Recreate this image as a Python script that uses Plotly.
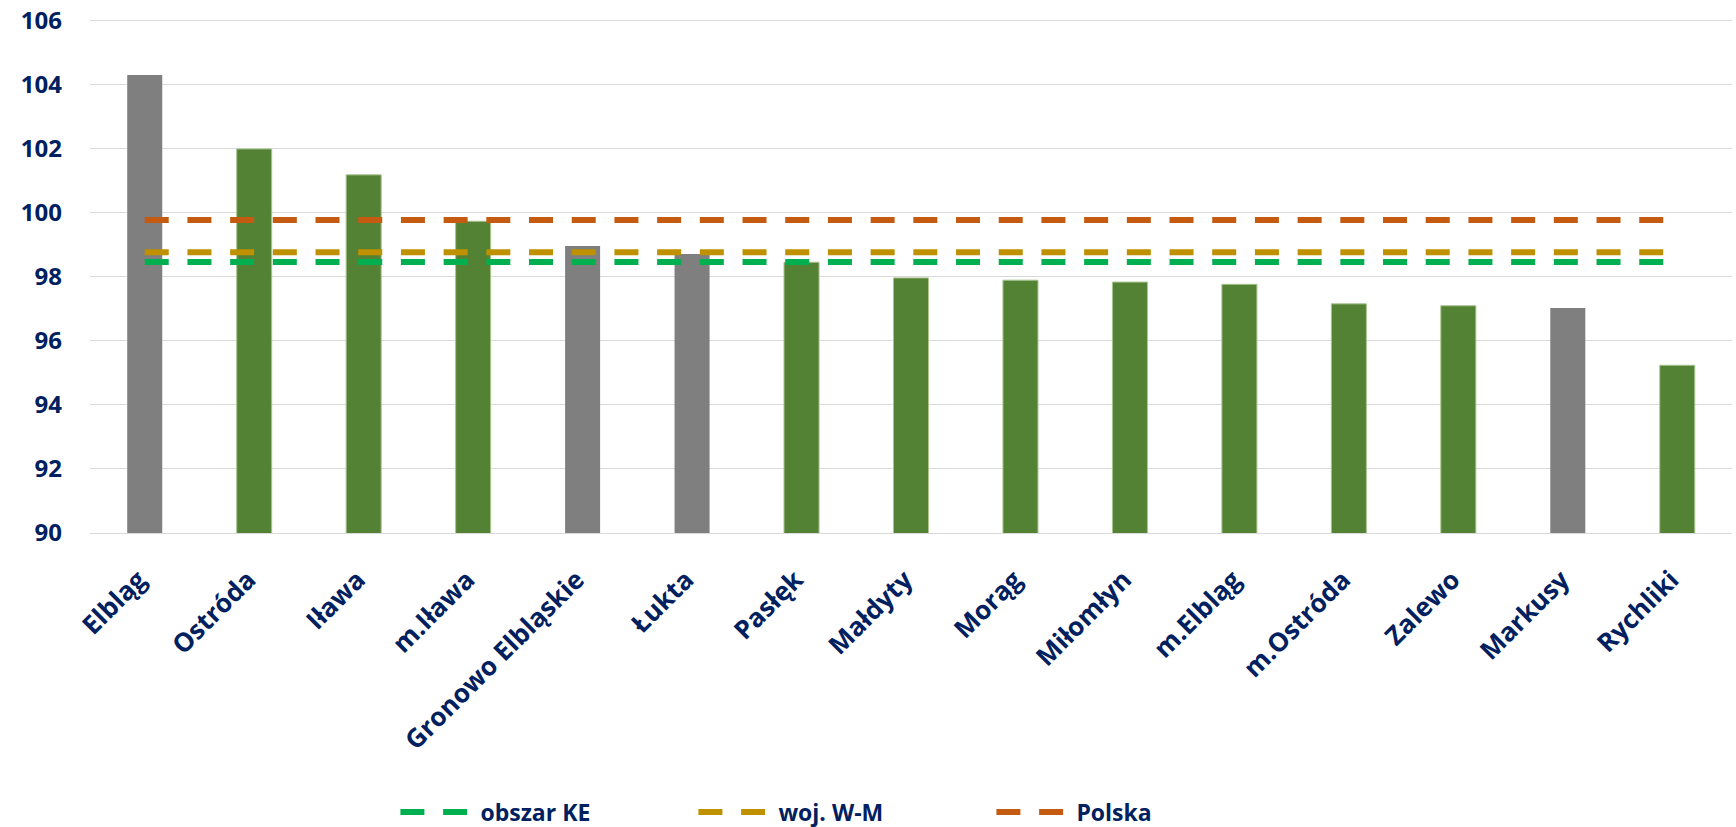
import plotly.graph_objects as go

categories = ["Elbląg", "Ostróda", "Iława", "m.Iława", "Gronowo Elbląskie", "Łukta",
              "Pasłęk", "Małdyty", "Morąg", "Miłomłyn", "m.Elbląg", "m.Ostróda",
              "Zalewo", "Markusy", "Rychliki"]
values = [104.31, 102.00, 101.19, 99.74, 98.97, 98.72, 98.46, 97.97, 97.90,
          97.84, 97.77, 97.16, 97.10, 97.03, 95.24]
highlight = [True, False, False, False, True, True, False, False, False,
             False, False, False, False, True, False]

ref_names = ["obszar KE", "woj. W-M", "Polska"]
ref_values = [98.47, 98.77, 99.78]
ref_colors = ["#00B050", "#BF9000", "#C55A11"]

y_ticks = [90, 92, 94, 96, 98, 100, 102, 104, 106]

GRAY = "#7F7F7F"
GREEN = "#548235"
NAVY = "#002060"
FONT = "Open Sans"

bar_colors = [GRAY if h else GREEN for h in highlight]
bar_lines = ["rgba(0,0,0,0)" if h else "#A9C48F" for h in highlight]

fig = go.Figure()
fig.add_trace(go.Bar(
    x=categories, y=values,
    marker=dict(color=bar_colors, line=dict(color=bar_lines, width=1)),
    showlegend=False, hoverinfo="x+y",
))
for name, val, col in zip(ref_names, ref_values, ref_colors):
    fig.add_trace(go.Scatter(
        x=categories, y=[val] * len(categories), mode="lines", name=name,
        line=dict(color=col, width=6, dash="24px,18.7px"),
    ))

fig.update_layout(
    width=1736, height=827,
    margin=dict(l=90, r=4, t=19, b=294, autoexpand=False),
    plot_bgcolor="white", paper_bgcolor="white",
    bargap=0.68,
    font=dict(family=FONT, color=NAVY, size=26, weight="bold"),
    showlegend=True,
    legend=dict(
        orientation="h", x=0.186, xanchor="left",
        yref="container", y=0.018, yanchor="middle",
        font=dict(family=FONT, color=NAVY, size=23, weight="bold"),
        itemwidth=75, entrywidth=208, entrywidthmode="pixels",
        traceorder="normal",
    ),
)
fig.update_yaxes(
    range=[90, 106.06], tickvals=y_ticks, automargin=False,
    showgrid=True, gridcolor="#D9D9D9", gridwidth=1.3,
    zeroline=False, showline=False,
    tickfont=dict(family=FONT, color=NAVY, size=24, weight="bold"),
    ticklabelstandoff=27, ticklabeloverflow="allow",
)
fig.update_xaxes(
    automargin=False,
    showgrid=False, showline=True, linecolor="#D9D9D9", linewidth=1.3,
    tickangle=-45,
    tickfont=dict(family=FONT, color=NAVY, size=26, weight="bold"),
    ticklabelstandoff=20, ticklabelshift=-6, ticklabeloverflow="allow",
)

# remove the default 8px page margin so the figure fills the window exactly
fig.write_html("out.html", config={"displayModeBar": False},
               post_script="document.body.style.margin='0';")
